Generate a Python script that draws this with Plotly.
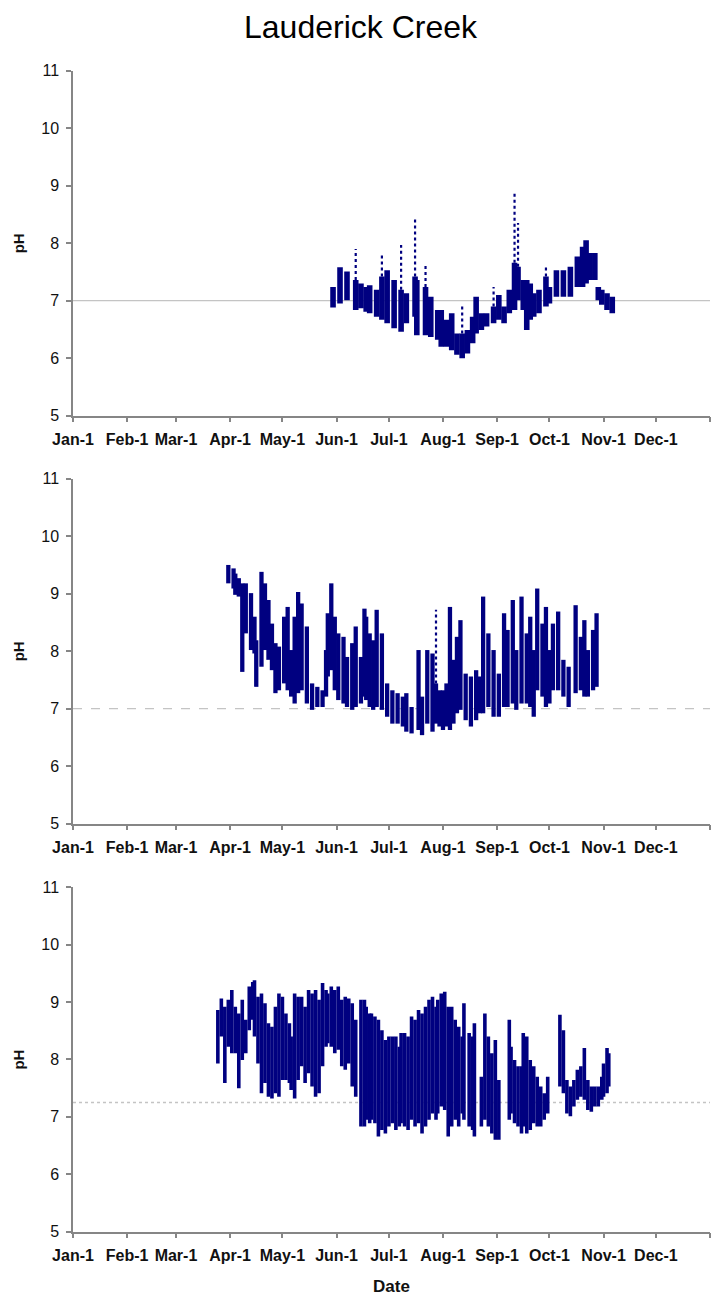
import plotly.graph_objects as go

# ---- axis labels -------------------------------------------------------
month_labels = ["Jan-1", "Feb-1", "Mar-1", "Apr-1", "May-1", "Jun-1",
                "Jul-1", "Aug-1", "Sep-1", "Oct-1", "Nov-1", "Dec-1", ""]
month_ticks = ["2007-01-01", "2007-02-01", "2007-03-01", "2007-04-01",
               "2007-05-01", "2007-06-01", "2007-07-01", "2007-08-01",
               "2007-09-01", "2007-10-01", "2007-11-01", "2007-12-01",
               "2008-01-01"]
ph_ticks = [5, 6, 7, 8, 9, 10, 11]

# ---- station 1: daily pH low / high ------------------------------------
s1_dates = ["2007-05-30", "2007-06-03", "2007-06-07", "2007-06-12", "2007-06-15",
            "2007-06-18", "2007-06-20", "2007-06-24", "2007-06-27", "2007-06-30",
            "2007-07-04", "2007-07-08", "2007-07-11", "2007-07-16", "2007-07-17",
            "2007-07-22", "2007-07-25", "2007-07-29", "2007-07-31", "2007-08-03",
            "2007-08-06", "2007-08-09", "2007-08-12", "2007-08-15", "2007-08-18",
            "2007-08-20", "2007-08-23", "2007-08-26", "2007-08-30", "2007-09-02",
            "2007-09-05", "2007-09-08", "2007-09-11", "2007-09-13", "2007-09-16",
            "2007-09-18", "2007-09-20", "2007-09-22", "2007-09-25", "2007-09-29",
            "2007-10-01", "2007-10-05", "2007-10-09", "2007-10-13", "2007-10-17",
            "2007-10-20", "2007-10-22", "2007-10-24", "2007-10-27", "2007-10-29",
            "2007-10-31", "2007-11-03", "2007-11-06"]
s1_low = [6.88, 6.95, 7.01, 6.84, 6.87, 6.81, 6.78, 6.72, 6.67, 6.61,
          6.52, 6.46, 6.61, 6.72, 6.40, 6.40, 6.37, 6.32, 6.20, 6.20,
          6.14, 6.06, 6.00, 6.08, 6.26, 6.43, 6.49, 6.55, 6.61, 6.67,
          6.61, 6.78, 6.84, 7.01, 6.84, 6.49, 6.67, 6.72, 6.78, 6.90,
          6.95, 7.07, 7.07, 7.07, 7.24, 7.24, 7.30, 7.36, 7.36, 7.01,
          6.93, 6.84, 6.78]
s1_high = [7.24, 7.58, 7.51, 7.36, 7.30, 7.24, 7.27, 7.19, 7.42, 7.53,
           7.36, 7.19, 7.13, 7.42, 7.36, 7.24, 7.07, 6.84, 6.84, 6.67,
           6.78, 6.43, 6.43, 6.49, 6.72, 7.07, 6.78, 6.78, 6.90, 7.10,
           6.90, 7.19, 7.66, 7.59, 7.36, 7.36, 7.30, 7.13, 7.19, 7.42,
           7.24, 7.53, 7.53, 7.59, 7.77, 7.94, 8.05, 7.83, 7.83, 7.24,
           7.19, 7.13, 7.07]
# isolated high readings above the daily cluster
s1_peak_dates = ["2007-06-12", "2007-06-27", "2007-07-08", "2007-07-16", "2007-07-22",
                 "2007-08-12", "2007-08-30", "2007-09-11", "2007-09-13", "2007-09-29"]
s1_peak_low = [7.36, 7.42, 7.19, 7.42, 7.24, 6.43, 6.90, 7.66, 7.59, 7.42]
s1_peak_high = [7.90, 7.80, 7.97, 8.43, 7.63, 6.90, 7.24, 8.87, 8.35, 7.59]

# ---- station 2 ---------------------------------------------------------
s2_dates = ["2007-03-31", "2007-04-03", "2007-04-04", "2007-04-06", "2007-04-08",
            "2007-04-10", "2007-04-13", "2007-04-15", "2007-04-16", "2007-04-19",
            "2007-04-21", "2007-04-23", "2007-04-25", "2007-04-27", "2007-04-29",
            "2007-05-02", "2007-05-04", "2007-05-06", "2007-05-08", "2007-05-10",
            "2007-05-12", "2007-05-15", "2007-05-18", "2007-05-21", "2007-05-24",
            "2007-05-26", "2007-05-27", "2007-05-29", "2007-05-31", "2007-06-02",
            "2007-06-05", "2007-06-07", "2007-06-10", "2007-06-12", "2007-06-15",
            "2007-06-17", "2007-06-18", "2007-06-20", "2007-06-22", "2007-06-24",
            "2007-06-27", "2007-06-30", "2007-07-03", "2007-07-06", "2007-07-09",
            "2007-07-11", "2007-07-14", "2007-07-18", "2007-07-20", "2007-07-23",
            "2007-07-26", "2007-07-28", "2007-07-30", "2007-08-01", "2007-08-03",
            "2007-08-05", "2007-08-07", "2007-08-09", "2007-08-11", "2007-08-14",
            "2007-08-17", "2007-08-20", "2007-08-22", "2007-08-24", "2007-08-27",
            "2007-08-30", "2007-09-02", "2007-09-05", "2007-09-07", "2007-09-10",
            "2007-09-12", "2007-09-15", "2007-09-18", "2007-09-20", "2007-09-22",
            "2007-09-24", "2007-09-27", "2007-09-29", "2007-10-01", "2007-10-03",
            "2007-10-06", "2007-10-09", "2007-10-12", "2007-10-16", "2007-10-19",
            "2007-10-21", "2007-10-23", "2007-10-26", "2007-10-28"]
s2_low = [9.18, 9.09, 8.98, 8.95, 7.64, 8.31, 8.02, 7.96, 7.38, 7.73,
          8.02, 7.85, 7.67, 7.27, 7.32, 7.44, 7.32, 7.21, 7.09, 7.27,
          7.32, 7.09, 6.98, 7.03, 7.03, 7.21, 7.56, 7.67, 7.32, 7.15,
          7.09, 7.03, 6.98, 7.03, 7.09, 7.21, 7.15, 7.03, 6.98, 7.03,
          6.98, 6.86, 6.74, 6.74, 6.69, 6.60, 6.57, 6.63, 6.54, 6.74,
          6.60, 6.74, 6.69, 6.63, 6.69, 6.63, 6.74, 6.92, 6.98, 6.80,
          6.69, 6.80, 6.92, 6.92, 7.03, 6.86, 6.86, 7.03, 7.03, 7.09,
          6.98, 7.09, 7.09, 7.03, 6.86, 7.32, 7.21, 7.03, 7.09, 7.32,
          7.32, 7.21, 7.03, 7.27, 7.32, 7.21, 7.21, 7.32, 7.38]
s2_high = [9.50, 9.44, 9.35, 9.27, 9.18, 9.18, 9.01, 8.60, 8.19, 9.38,
           9.18, 8.89, 8.48, 8.14, 8.08, 8.60, 8.77, 8.02, 8.60, 9.03,
           8.83, 8.43, 7.44, 7.38, 7.32, 8.02, 8.66, 9.18, 8.60, 8.31,
           8.25, 7.90, 8.14, 8.43, 7.90, 8.74, 8.60, 8.31, 8.19, 8.72,
           8.31, 7.44, 7.32, 7.27, 7.21, 7.27, 7.03, 8.02, 7.21, 8.02,
           7.96, 7.44, 7.32, 7.32, 7.44, 8.77, 7.85, 8.25, 8.54, 7.61,
           7.56, 7.67, 7.56, 8.95, 8.31, 8.02, 7.61, 8.66, 8.37, 8.89,
           8.02, 8.95, 8.31, 8.60, 8.02, 9.09, 8.48, 8.77, 8.02, 8.48,
           8.69, 7.85, 7.73, 8.80, 8.25, 8.54, 8.02, 8.37, 8.66]
s2_peak_dates = ["2007-07-28"]
s2_peak_low = [7.44]
s2_peak_high = [8.72]

# ---- station 3 ---------------------------------------------------------
s3_dates = ["2007-03-25", "2007-03-27", "2007-03-29", "2007-03-31", "2007-04-02",
            "2007-04-04", "2007-04-06", "2007-04-08", "2007-04-10", "2007-04-12",
            "2007-04-14", "2007-04-15", "2007-04-17", "2007-04-19", "2007-04-21",
            "2007-04-23", "2007-04-25", "2007-04-27", "2007-04-29", "2007-05-01",
            "2007-05-03", "2007-05-05", "2007-05-06", "2007-05-08", "2007-05-10",
            "2007-05-12", "2007-05-14", "2007-05-16", "2007-05-18", "2007-05-20",
            "2007-05-22", "2007-05-24", "2007-05-26", "2007-05-27", "2007-05-29",
            "2007-05-31", "2007-06-02", "2007-06-04", "2007-06-06", "2007-06-08",
            "2007-06-10", "2007-06-12", "2007-06-15", "2007-06-17", "2007-06-18",
            "2007-06-20", "2007-06-21", "2007-06-23", "2007-06-25", "2007-06-27",
            "2007-06-29", "2007-07-01", "2007-07-03", "2007-07-05", "2007-07-07",
            "2007-07-08", "2007-07-10", "2007-07-12", "2007-07-14", "2007-07-16",
            "2007-07-18", "2007-07-20", "2007-07-22", "2007-07-24", "2007-07-26",
            "2007-07-28", "2007-07-29", "2007-07-31", "2007-08-02", "2007-08-04",
            "2007-08-06", "2007-08-08", "2007-08-10", "2007-08-12", "2007-08-13",
            "2007-08-16", "2007-08-18", "2007-08-19", "2007-08-23", "2007-08-25",
            "2007-08-27", "2007-08-29", "2007-08-31", "2007-09-02", "2007-09-08",
            "2007-09-09", "2007-09-11", "2007-09-13", "2007-09-15", "2007-09-16",
            "2007-09-18", "2007-09-20", "2007-09-22", "2007-09-24", "2007-09-26",
            "2007-09-28", "2007-09-30", "2007-10-07", "2007-10-09", "2007-10-11",
            "2007-10-13", "2007-10-15", "2007-10-17", "2007-10-19", "2007-10-21",
            "2007-10-23", "2007-10-25", "2007-10-27", "2007-10-29", "2007-10-31",
            "2007-11-01", "2007-11-03", "2007-11-04"]
s3_low = [7.93, 8.40, 7.59, 8.22, 8.11, 8.11, 7.50, 7.99, 8.11, 8.51,
          8.69, 8.40, 7.93, 7.41, 7.59, 7.35, 7.32, 7.41, 7.35, 7.64,
          7.64, 7.59, 7.47, 7.32, 7.64, 7.88, 7.59, 7.76, 7.53, 7.35,
          7.41, 7.88, 8.22, 8.28, 8.22, 8.11, 8.17, 7.88, 7.82, 7.93,
          7.53, 7.35, 6.83, 6.83, 6.95, 6.89, 6.95, 6.89, 6.66, 6.77,
          6.71, 6.83, 6.89, 6.77, 6.83, 6.89, 6.83, 6.77, 6.95, 6.83,
          6.89, 6.71, 6.83, 6.95, 7.06, 6.95, 7.06, 7.18, 7.12, 6.66,
          6.83, 6.95, 6.83, 7.06, 6.95, 6.83, 6.77, 6.66, 6.83, 6.95,
          6.83, 6.71, 6.60, 6.60, 6.95, 7.06, 6.89, 6.83, 6.71, 6.83,
          6.71, 6.77, 6.89, 6.83, 6.83, 6.95, 7.06, 7.53, 7.41, 7.06,
          7.01, 7.18, 7.30, 7.35, 7.30, 7.12, 7.09, 7.18, 7.18, 7.30,
          7.35, 7.41, 7.53]
s3_high = [8.86, 9.06, 8.92, 9.04, 9.21, 8.92, 8.80, 9.04, 8.69, 9.27,
           9.35, 9.38, 9.09, 9.15, 8.98, 8.63, 8.57, 8.92, 9.15, 9.09,
           8.80, 8.63, 8.40, 9.15, 9.09, 9.09, 8.92, 9.21, 9.15, 9.21,
           9.04, 9.33, 9.21, 9.15, 9.27, 9.21, 9.27, 9.04, 9.09, 9.06,
           8.98, 8.69, 9.04, 9.04, 8.92, 8.80, 8.80, 8.75, 8.69, 8.51,
           8.34, 8.40, 8.40, 8.40, 8.22, 8.46, 8.46, 8.40, 8.75, 8.69,
           8.86, 8.80, 8.92, 9.04, 9.09, 8.92, 9.04, 9.15, 9.18, 8.92,
           8.92, 8.69, 8.57, 8.40, 8.98, 8.46, 8.40, 8.63, 7.70, 8.80,
           8.40, 8.11, 8.34, 7.64, 8.69, 8.22, 7.99, 7.88, 7.88, 8.46,
           8.40, 7.99, 7.88, 7.70, 7.53, 7.41, 7.70, 8.78, 8.51, 7.64,
           7.53, 7.64, 7.82, 7.88, 8.20, 7.64, 7.53, 7.53, 7.53, 7.70,
           7.93, 8.20, 8.11]

# reference pH level drawn across each panel
ref_levels = [7.0, 7.0, 7.25]
ref_dash = ["solid", "dash", "dot"]

NAVY = "#000080"
AXIS_GREY = "#868686"
REF_GREY = "#c4c4c4"
FONT = "Arial, Liberation Sans, sans-serif"


def segments(dates, low, high):
    """Vertical low-high strokes, one per date, separated by gaps."""
    xs, ys = [], []
    for d, lo, hi in zip(dates, low, high):
        xs += [d, d, None]
        ys += [lo, hi, None]
    return xs, ys


stations = [
    (s1_dates, s1_low, s1_high, s1_peak_dates, s1_peak_low, s1_peak_high, 5.6),
    (s2_dates, s2_low, s2_high, s2_peak_dates, s2_peak_low, s2_peak_high, 4.3),
    (s3_dates, s3_low, s3_high, [], [], [], 3.6),
]

# panel placement (fraction of figure height)
domains = [[0.67949, 0.94549], [0.36492, 0.63092], [0.05035, 0.31596]]

fig = go.Figure()
for i, (dates, low, high, pk_d, pk_lo, pk_hi, w) in enumerate(stations):
    xa = "x" if i == 0 else f"x{i + 1}"
    ya = "y" if i == 0 else f"y{i + 1}"
    sx, sy = segments(dates, low, high)
    fig.add_trace(go.Scatter(x=sx, y=sy, mode="lines", xaxis=xa, yaxis=ya,
                             line=dict(color=NAVY, width=w),
                             showlegend=False, hoverinfo="skip"))
    if pk_d:
        px, py = segments(pk_d, pk_lo, pk_hi)
        fig.add_trace(go.Scatter(x=px, y=py, mode="lines", xaxis=xa, yaxis=ya,
                                 line=dict(color=NAVY, width=2.2, dash="dot"),
                                 showlegend=False, hoverinfo="skip"))
    fig.add_shape(type="line", xref=f"{xa} domain", yref=ya,
                  x0=0, x1=1, y0=ref_levels[i], y1=ref_levels[i],
                  line=dict(color=REF_GREY, width=1.3, dash=ref_dash[i]),
                  layer="below")

    axis_x = dict(type="date", range=["2007-01-01", "2008-01-01"],
                  tickmode="array", tickvals=month_ticks, ticktext=month_labels,
                  showline=True, linecolor=AXIS_GREY, linewidth=1.5,
                  ticks="outside", ticklen=5, tickwidth=1.5, tickcolor=AXIS_GREY,
                  showgrid=False, zeroline=False, ticklabelstandoff=3,
                  tickfont=dict(family=FONT, size=16, color="#111111",
                                weight="bold"),
                  anchor=ya, domain=[0, 1], automargin=False)
    axis_y = dict(range=[5, 11], tickmode="array", tickvals=ph_ticks,
                  showline=True, linecolor=AXIS_GREY, linewidth=1.5,
                  ticks="outside", ticklen=5, tickwidth=1.5, tickcolor=AXIS_GREY,
                  showgrid=False, zeroline=False, ticklabelstandoff=4,
                  tickfont=dict(family=FONT, size=16, color="#111111"),
                  anchor=xa, domain=domains[i], automargin=False)
    key = "" if i == 0 else str(i + 1)
    fig.update_layout({f"xaxis{key}": axis_x, f"yaxis{key}": axis_y})

    # rotated pH label beside each panel
    fig.add_annotation(text="<b>pH</b>", xref="paper", yref="paper",
                       x=-0.0862, y=sum(domains[i]) / 2, showarrow=False,
                       textangle=-90, xanchor="center", yanchor="middle",
                       font=dict(family=FONT, size=15, color="#111111"))

fig.add_annotation(text="<b>Date</b>", xref="paper", yref="paper",
                   x=0.5, y=1 - 1286 / 1297, showarrow=False,
                   xanchor="center", yanchor="middle",
                   font=dict(family=FONT, size=17, color="#111111"))

fig.add_annotation(text="Lauderick Creek", xref="paper", yref="paper",
                   x=(361 - 73) / 637, y=1 - 27 / 1297, showarrow=False,
                   xanchor="center", yanchor="middle",
                   font=dict(family=FONT, size=32, color="#000000"))

fig.update_layout(width=711, height=1297,
                  margin=dict(l=73, r=1, t=0, b=0),
                  paper_bgcolor="white", plot_bgcolor="white",
                  showlegend=False)

fig.write_html("out.html", config={"displayModeBar": False})
